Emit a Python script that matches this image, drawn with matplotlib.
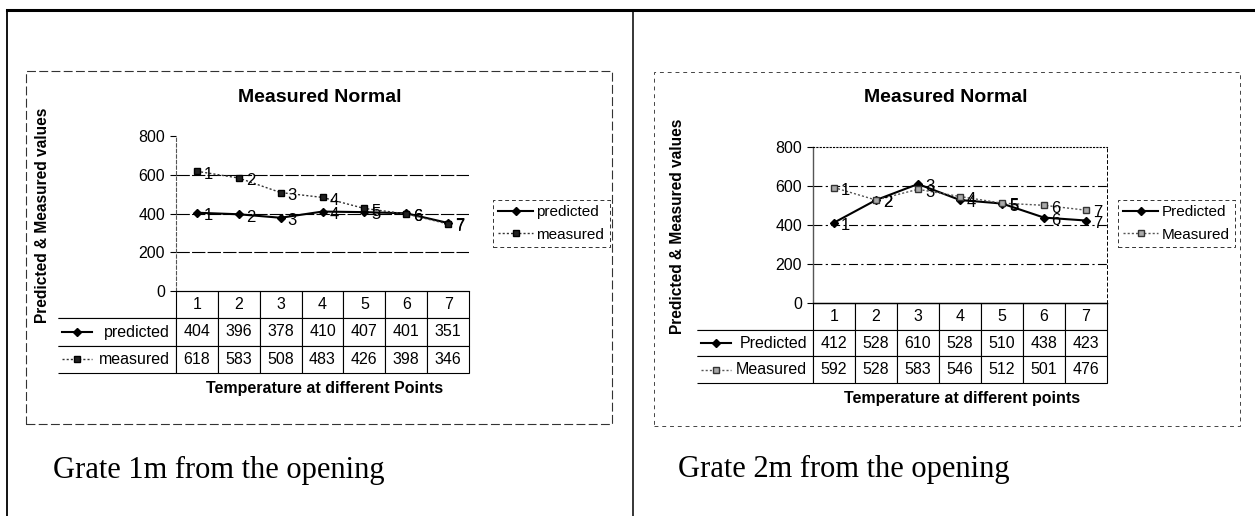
import matplotlib
matplotlib.use('Agg')
import matplotlib.pyplot as plt
from matplotlib.lines import Line2D
from matplotlib.patches import Rectangle

plt.rcParams['font.family'] = ['Liberation Sans', 'DejaVu Sans']

# data
points = [1, 2, 3, 4, 5, 6, 7]
grate1_predicted = [404, 396, 378, 410, 407, 401, 351]
grate1_measured = [618, 583, 508, 483, 426, 398, 346]
grate2_predicted = [412, 528, 610, 528, 510, 438, 423]
grate2_measured = [592, 528, 583, 546, 512, 501, 476]
yticks = [0, 200, 400, 600, 800]

W, H = 1255, 516
fig = plt.figure(figsize=(W / 100, H / 100), dpi=100)


def box(x0, y0, x1, y1):
    # pixel box (origin top-left) -> figure fraction rect
    return [x0 / W, 1 - y1 / H, (x1 - x0) / W, (y1 - y0) / H]


def fpt(x, y):
    return (x / W, 1 - y / H)


def fline(xs, ys, **kw):
    fig.add_artist(Line2D([x / W for x in xs], [1 - y / H for y in ys],
                          transform=fig.transFigure, **kw))


def draw_chart(plot, label_x0, table_bottom, pred, meas, names, pred_style, meas_style, legend_at):
    x0, y0, x1, y1 = plot
    ax = fig.add_axes(box(x0, y0, x1, y1))
    ax.set_xlim(0.5, 7.5)
    ax.set_ylim(0, 800)
    ax.plot(points, pred, label=names[0], **pred_style)
    ax.plot(points, meas, label=names[1], **meas_style)
    for series in (pred, meas):
        for p, v in zip(points, series):
            ax.annotate(str(p), (p, v), xytext=(5, -2), textcoords='offset points',
                        va='center', ha='left', fontsize=12)
    ax.set_yticks(yticks)
    ax.tick_params(axis='y', labelsize=11.5, length=4, width=0.8, pad=4)
    ax.set_xticks(points)
    ax.set_xticklabels([])
    ax.tick_params(axis='x', length=0)

    # data table under the plot
    w_lab = x0 - label_x0
    w_plot = x1 - x0
    h_tab = table_bottom - y1
    tab = ax.table(cellText=[[names[0]] + [str(v) for v in pred],
                             [names[1]] + [str(v) for v in meas]],
                   colLabels=[''] + [str(p) for p in points], cellLoc='center',
                   colWidths=[w_lab] + [w_plot / 7] * 7,
                   bbox=[-w_lab / w_plot, -h_tab / (y1 - y0),
                         (w_lab + w_plot) / w_plot, h_tab / (y1 - y0)])
    tab.auto_set_font_size(False)
    tab.set_fontsize(11.5)
    for (r, c), cell in tab.get_celld().items():
        cell.set_linewidth(0.8)
        cell.set_edgecolor('black')
    tab[(0, 0)].visible_edges = 'B'
    for r in (1, 2):
        tab[(r, 0)].visible_edges = 'BTR'
        tab[(r, 0)].get_text().set_horizontalalignment('right')
        tab[(r, 0)].PAD = 0.05

    # legend keys inside the table label cells
    row_h = h_tab / 3
    for r, st in ((1, pred_style), (2, meas_style)):
        yc = y1 + row_h * (r + 0.5)
        kx = [label_x0 + 4, label_x0 + 19, label_x0 + 34]
        fline(kx, [yc] * 3, color=st['color'], lw=st['lw'], ls=st['ls'],
              marker=st['marker'], ms=st['ms'], mfc=st['mfc'], mec=st['mec'], markevery=[1])

    leg = ax.legend(loc='upper left', bbox_to_anchor=fpt(*legend_at), bbox_transform=fig.transFigure,
                    fontsize=11, fancybox=False, edgecolor='black', borderaxespad=0,
                    handlelength=2.3, handletextpad=0.2, labelspacing=0.55, borderpad=0.35)
    leg.get_frame().set_linestyle((0, (4, 3)))
    leg.get_frame().set_linewidth(0.7)
    return ax


# ---- left panel: grate 1m ----
pred1_style = dict(color='black', lw=1.5, ls='-', marker='D', ms=4.5, mfc='black', mec='black')
meas1_style = dict(color='#333333', lw=1.0, ls=(0, (1.5, 1.5)), marker='s', ms=5, mfc='#222222', mec='black')
ax1 = draw_chart((176, 136, 469, 291), 58, 373, grate1_predicted, grate1_measured,
                 ['predicted', 'measured'], pred1_style, meas1_style, (493, 200))
ax1.spines['top'].set_visible(False)
ax1.spines['right'].set_visible(False)
ax1.spines['left'].set_linestyle((0, (3, 2)))
ax1.spines['left'].set_color('#555555')
ax1.spines['left'].set_linewidth(0.8)
ax1.spines['bottom'].set_linewidth(0.8)
ax1.yaxis.grid(True, color='black', lw=0.8, ls=(0, (12, 2)))
for gl, t in zip(ax1.get_ygridlines(), yticks):
    if t in (0, 800):
        gl.set_visible(False)

fig.text(320 / W, 1 - 97 / H, 'Measured Normal', ha='center', va='center', fontsize=14, fontweight='bold')
fig.text(43 / W, 1 - 215 / H, 'Predicted & Measured values', rotation=90, ha='center', va='center',
         fontsize=11.2, fontweight='bold')
fig.text(325 / W, 1 - 389 / H, 'Temperature at different Points', ha='center', va='center',
         fontsize=11.5, fontweight='bold')
fig.add_artist(Rectangle(fpt(26, 424), (612 - 26) / W, (424 - 71) / H, transform=fig.transFigure,
                         fill=False, lw=0.8, ls=(0, (8, 3)), edgecolor='#333333'))
fig.text(53 / W, 1 - 478 / H, 'Grate 1m from the opening', family=['Liberation Serif', 'DejaVu Serif'],
         fontsize=22, va='baseline', ha='left')

# ---- right panel: grate 2m ----
pred2_style = dict(color='black', lw=1.5, ls='-', marker='D', ms=4.5, mfc='black', mec='black')
meas2_style = dict(color='#555555', lw=1.0, ls=(0, (1.5, 1.5)), marker='s', ms=5, mfc='#aaaaaa', mec='#333333')
ax2 = draw_chart((813, 147, 1107, 303), 697, 383, grate2_predicted, grate2_measured,
                 ['Predicted', 'Measured'], pred2_style, meas2_style, (1118, 200))
ax2.spines['top'].set_linestyle((0, (1, 2)))
ax2.spines['top'].set_linewidth(0.8)
ax2.spines['right'].set_linestyle((0, (3, 3)))
ax2.spines['right'].set_linewidth(0.7)
ax2.spines['left'].set_color('#555555')
ax2.spines['left'].set_linewidth(1.0)
ax2.spines['bottom'].set_linewidth(1.0)
ax2.yaxis.grid(True, color='black', lw=0.8, ls=(0, (8, 3, 2, 3)))
for gl, t in zip(ax2.get_ygridlines(), yticks):
    if t in (0, 800):
        gl.set_visible(False)

fig.text(946 / W, 1 - 97 / H, 'Measured Normal', ha='center', va='center', fontsize=14, fontweight='bold')
fig.text(678 / W, 1 - 226 / H, 'Predicted & Measured values', rotation=90, ha='center', va='center',
         fontsize=11.2, fontweight='bold')
fig.text(962 / W, 1 - 399 / H, 'Temperature at different points', ha='center', va='center',
         fontsize=11.5, fontweight='bold')
fig.add_artist(Rectangle(fpt(654, 426), (1240 - 654) / W, (426 - 72) / H, transform=fig.transFigure,
                         fill=False, lw=0.7, ls=(0, (4, 4)), edgecolor='#444444'))
fig.text(678 / W, 1 - 477 / H, 'Grate 2m from the opening', family=['Liberation Serif', 'DejaVu Serif'],
         fontsize=22, va='baseline', ha='left')

# page frame of the scanned table
fline([7, 1255], [10, 10], color='black', lw=2.2)
fline([7, 7], [10, 516], color='black', lw=1.3)
fline([633, 633], [10, 516], color='black', lw=1.1)

fig.savefig('out.png', dpi=100, facecolor='white')
